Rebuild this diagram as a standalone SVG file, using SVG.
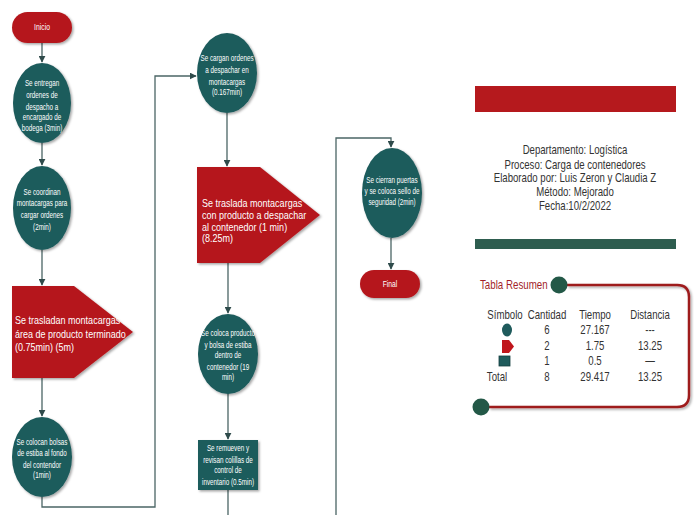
<svg xmlns="http://www.w3.org/2000/svg" width="694" height="515" viewBox="0 0 694 515">
<style>
.bg{fill:#ffffff}
.red{fill:#B5191D}
.teal{fill:#1F5B5C}
.con{fill:none;stroke:#4B6565;stroke-width:1.3}
.nt{font-family:"Liberation Sans",Arial,sans-serif;font-size:8.5px;fill:#ffffff;text-anchor:middle}
.pt{font-family:"Liberation Sans",Arial,sans-serif;font-size:11px;fill:#ffffff}
.info{font-family:"Liberation Sans",Arial,sans-serif;font-size:12.5px;fill:#333333;text-anchor:middle}
.tb{font-family:"Liberation Sans",Arial,sans-serif;font-size:12.5px;fill:#333333;text-anchor:middle}
</style>
<defs>
<marker id="arr" viewBox="0 0 10 10" refX="9" refY="5" markerWidth="7" markerHeight="7" orient="auto" markerUnits="userSpaceOnUse">
<path d="M0,0 L10,5 L0,10 Z" fill="#2F4B4B"/>
</marker>
<filter id="sh" x="-20%" y="-20%" width="150%" height="150%">
<feDropShadow dx="1.5" dy="1.5" stdDeviation="1.2" flood-color="#000" flood-opacity="0.35"/>
</filter>
</defs>
<rect class="bg" width="694" height="515"/>

<g id="connectors">
<path class="con" d="M42,43 V62" marker-end="url(#arr)"/>
<path class="con" d="M42,143 V165" marker-end="url(#arr)"/>
<path class="con" d="M42,250 V285" marker-end="url(#arr)"/>
<path class="con" d="M42,378 V416" marker-end="url(#arr)"/>
<path class="con" d="M42,497 V507 H155 V76 H196" marker-end="url(#arr)"/>
<path class="con" d="M227,113 V166" marker-end="url(#arr)"/>
<path class="con" d="M228,263 V313" marker-end="url(#arr)"/>
<path class="con" d="M228,393 V439" marker-end="url(#arr)"/>
<path class="con" d="M228,490 V515"/>
<path class="con" d="M336,515 V138 H391 V147" marker-end="url(#arr)"/>
<path class="con" d="M391,238 V269" marker-end="url(#arr)"/>
</g>

<g id="inicio">
<rect class="red" x="12" y="12" width="60" height="31" rx="15.5" filter="url(#sh)"/>
<g transform="translate(42 0) scale(0.8 1)"><text class="nt" x="0" y="30">Inicio</text></g>
</g>

<g id="n1">
<ellipse class="teal" cx="42" cy="103" rx="29" ry="40" filter="url(#sh)"/>
<g transform="translate(42 0) scale(0.74 1)">
<text class="nt" x="0" y="86">Se entregan</text>
<text class="nt" x="0" y="98">ordenes de</text>
<text class="nt" x="0" y="110">despacho a</text>
<text class="nt" x="0" y="120">encargado de</text>
<text class="nt" x="0" y="131">bodega (3min)</text>
</g>
</g>

<g id="n2">
<ellipse class="teal" cx="42" cy="208" rx="29" ry="42" filter="url(#sh)"/>
<g transform="translate(42 0) scale(0.74 1)">
<text class="nt" x="0" y="195">Se coordinan</text>
<text class="nt" x="0" y="206">montacargas para</text>
<text class="nt" x="0" y="218">cargar ordenes</text>
<text class="nt" x="0" y="230">(2min)</text>
</g>
</g>

<g id="n3">
<polygon class="red" points="12,286 74,286 133,332 74,378 12,378" filter="url(#sh)"/>
<g transform="translate(15 0) scale(0.82 1)">
<text class="pt" x="0" y="324">Se trasladan montacargas a</text>
<text class="pt" x="0" y="338"> área de producto terminado</text>
<text class="pt" x="0" y="351">(0.75min) (5m)</text>
</g>
</g>

<g id="n4">
<ellipse class="teal" cx="42" cy="457" rx="30" ry="40" filter="url(#sh)"/>
<g transform="translate(42 0) scale(0.74 1)">
<text class="nt" x="0" y="445">Se colocan bolsas</text>
<text class="nt" x="0" y="456">de estiba al fondo</text>
<text class="nt" x="0" y="468">del contendor</text>
<text class="nt" x="0" y="478">(1min)</text>
</g>
</g>

<g id="n5">
<ellipse class="teal" cx="227" cy="73" rx="30" ry="40" filter="url(#sh)"/>
<g transform="translate(227 0) scale(0.74 1)">
<text class="nt" x="0" y="61">Se cargan ordenes</text>
<text class="nt" x="0" y="73">a despachar en</text>
<text class="nt" x="0" y="85">montacargas</text>
<text class="nt" x="0" y="95">(0.167min)</text>
</g>
</g>

<g id="n6">
<polygon class="red" points="197,167 260,167 320,215 260,263 197,263" filter="url(#sh)"/>
<g transform="translate(202 0) scale(0.82 1)">
<text class="pt" x="0" y="207">Se traslada montacargas</text>
<text class="pt" x="0" y="219"> con producto a despachar</text>
<text class="pt" x="0" y="231"> al contenedor (1 min)</text>
<text class="pt" x="0" y="242">(8.25m)</text>
</g>
</g>

<g id="n7">
<ellipse class="teal" cx="228" cy="354" rx="30" ry="40" filter="url(#sh)"/>
<g transform="translate(228 0) scale(0.74 1)">
<text class="nt" x="0" y="336">Se coloca producto</text>
<text class="nt" x="0" y="348">y bolsa de estiba</text>
<text class="nt" x="0" y="358">dentro de</text>
<text class="nt" x="0" y="370">contenedor (19</text>
<text class="nt" x="0" y="380">min)</text>
</g>
</g>

<g id="n8">
<rect class="teal" x="198" y="440" width="60" height="50" filter="url(#sh)"/>
<g transform="translate(228 0) scale(0.74 1)">
<text class="nt" x="0" y="451">Se remueven y</text>
<text class="nt" x="0" y="463">revisan colillas de</text>
<text class="nt" x="0" y="473">control de</text>
<text class="nt" x="0" y="485">inventario (0.5min)</text>
</g>
</g>

<g id="n9">
<ellipse class="teal" cx="392" cy="193" rx="30" ry="45" filter="url(#sh)"/>
<g transform="translate(392 0) scale(0.74 1)">
<text class="nt" x="0" y="183">Se cierran puertas</text>
<text class="nt" x="0" y="194">y se coloca sello de</text>
<text class="nt" x="0" y="205">seguridad (2min)</text>
</g>
</g>

<g id="final">
<rect class="red" x="360" y="270" width="60" height="28" rx="14" filter="url(#sh)"/>
<g transform="translate(390 0) scale(0.8 1)"><text class="nt" x="0" y="287">Final</text></g>
</g>

<g id="info">
<rect class="red" x="475" y="86" width="201" height="26"/>
<g transform="translate(575 0) scale(0.77 1)">
<text class="info" x="0" y="154">Departamento: Logística</text>
<text class="info" x="0" y="169">Proceso: Carga de contenedores</text>
<text class="info" x="0" y="182">Elaborado por: Luis Zeron y Claudia Z</text>
<text class="info" x="0" y="196">Método: Mejorado</text>
<text class="info" x="0" y="210">Fecha:10/2/2022</text>
</g>
<rect x="475" y="239" width="201" height="10" fill="#2E5D4F"/>
</g>

<g id="resumen">
<path d="M567,285 H677 Q689,285 689,297 V395 Q689,407 677,407 H489" fill="none" stroke="#9E1A1E" stroke-width="2.5" filter="url(#sh)"/>
<circle cx="559" cy="285" r="8.5" fill="#235847"/>
<circle cx="481" cy="407" r="8.5" fill="#235847"/>
<g transform="translate(480 0) scale(0.78 1)">
<text x="0" y="289" font-family="Liberation Sans, Arial, sans-serif" font-size="12.5" fill="#A31F2A">Tabla Resumen</text>
</g>
<g transform="translate(505 0) scale(0.77 1)"><text class="tb" x="0" y="319">Símbolo</text></g>
<g transform="translate(497 0) scale(0.77 1)"><text class="tb" x="0" y="381">Total</text></g>
<g transform="translate(547 0) scale(0.77 1)">
<text class="tb" x="0" y="319">Cantidad</text>
<text class="tb" x="0" y="334">6</text>
<text class="tb" x="0" y="350">2</text>
<text class="tb" x="0" y="365">1</text>
<text class="tb" x="0" y="381">8</text>
</g>
<g transform="translate(595 0) scale(0.77 1)">
<text class="tb" x="0" y="319">Tiempo</text>
<text class="tb" x="0" y="334">27.167</text>
<text class="tb" x="0" y="350">1.75</text>
<text class="tb" x="0" y="365">0.5</text>
<text class="tb" x="0" y="381">29.417</text>
</g>
<g transform="translate(650 0) scale(0.77 1)">
<text class="tb" x="0" y="319">Distancia</text>
<text class="tb" x="0" y="334">---</text>
<text class="tb" x="0" y="350">13.25</text>
<text class="tb" x="0" y="365">—</text>
<text class="tb" x="0" y="381">13.25</text>
</g>
<ellipse cx="507" cy="330" rx="5" ry="6.5" fill="#1F5B5C"/>
<polygon points="502,340 509,340 514,346.5 509,353 502,353" fill="#C0161C"/>
<rect x="499" y="356" width="11" height="10" fill="#1F5B5C" stroke="#163f40" stroke-width="0.8"/>
</g>
</svg>
